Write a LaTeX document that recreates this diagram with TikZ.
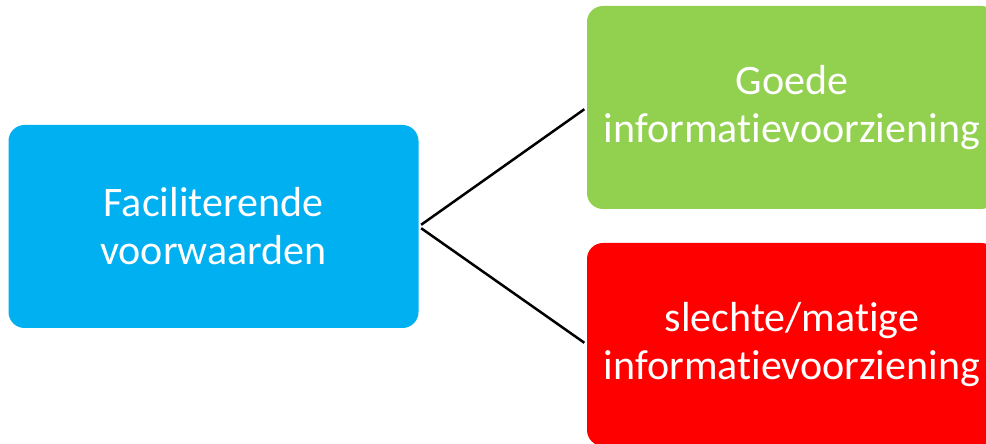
\documentclass[tikz,border=0pt]{standalone}
\usepackage{fontspec}
\setmainfont[Ligatures=NoCommon]{Carlito}
\definecolor{boxblue}{HTML}{00B0F0}
\definecolor{boxgreen}{HTML}{92D050}
\definecolor{boxred}{HTML}{FF0000}
\begin{document}
\begin{tikzpicture}[x=1pt,y=1pt,
  box/.style={rectangle, rounded corners=16pt, minimum width=410pt, minimum height=203pt,
    inner sep=0pt, align=center, text=white, font=\fontsize{42}{48}\selectfont},
  link/.style={draw=black, line width=2.5pt, shorten <=3pt, shorten >=3pt}]
\useasboundingbox (0,0) rectangle (986,444);
\clip (0,0) rectangle (986,444);
\node[box, fill=boxblue] (fac) at (213.5,217.5) {Faciliterende\\voorwaarden};
\node[box, fill=boxgreen] (goed) at (792,336.5) {Goede\\informatievoorziening};
\node[box, fill=boxred] (slecht) at (792,99.5) {slechte/matige\\informatievoorziening};
\draw[link] (fac.east) -- (goed.west);
\draw[link] (fac.east) -- (slecht.west);
\end{tikzpicture}
\end{document}
